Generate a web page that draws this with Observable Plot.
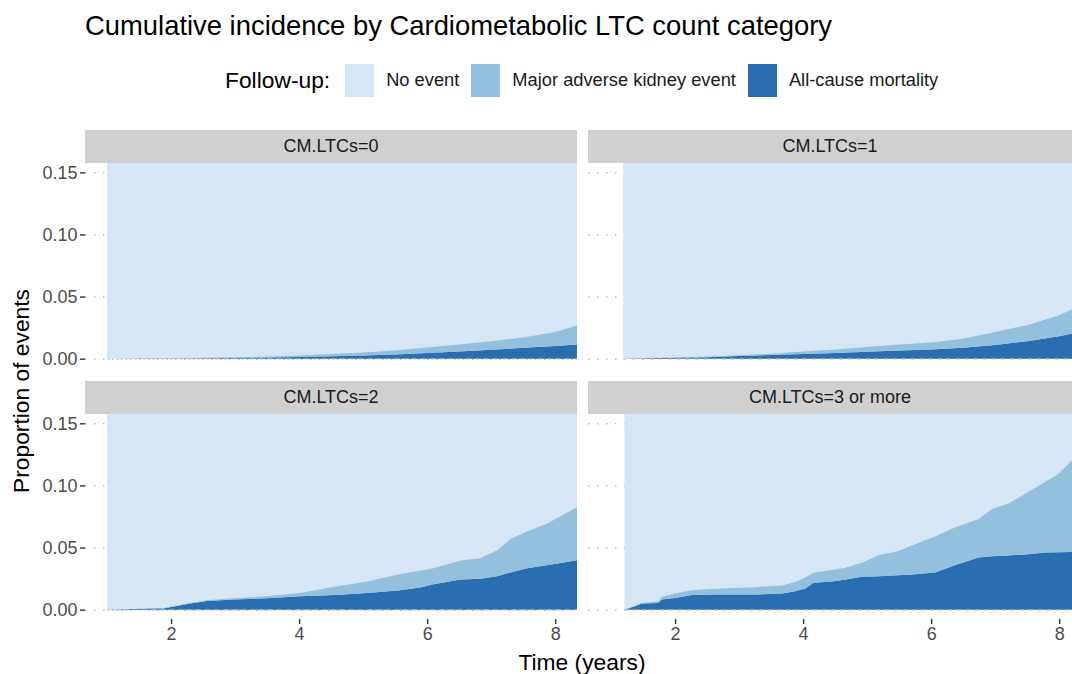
<!DOCTYPE html>
<html>
<head>
<meta charset="utf-8">
<script src="https://cdn.jsdelivr.net/npm/d3@7"></script>
<script src="https://cdn.jsdelivr.net/npm/@observablehq/plot@0.6"></script>
<style>
  html, body { margin: 0; padding: 0; background: #fff; overflow: hidden; }
  #wrap { position: relative; width: 1072px; height: 674px; font-family: "Liberation Sans", Arial, Helvetica, sans-serif; }
  .abs { position: absolute; }
  .strip { position: absolute; background: #d0d0d0; color: #1a1a1a; font-size: 18px; display: flex; align-items: center; justify-content: center; }
  #wrap svg { background: transparent !important; overflow: visible; }
  .legend { position: absolute; left: 225px; top: 63px; height: 34px; display: flex; align-items: center; }
  .legend .ttl { font-size: 22.8px; color: #000; margin-right: 15px; }
  .legend .sw { width: 29px; height: 33px; margin-right: 12px; }
  .legend .lab { font-size: 18.3px; color: #1a1a1a; margin-right: 12px; }
</style>
</head>
<body>
<div id="wrap"></div>
<script>
// ---------- text ----------
const titleText = "Cumulative incidence by Cardiometabolic LTC count category";
const legendTitle = "Follow-up:";
const seriesLabels = ["No event", "Major adverse kidney event", "All-cause mortality"];
const seriesColors = ["#d6e6f4", "#92c0dd", "#2a6db1"];
const facetLabels = ["CM.LTCs=0", "CM.LTCs=1", "CM.LTCs=2", "CM.LTCs=3 or more"];
const xTicks = [2, 4, 6, 8];
const yTicks = [0, 0.05, 0.10, 0.15];
const xLabel = "Time (years)";
const yLabel = "Proportion of events";

// ---------- data (cumulative incidence) ----------
// CM.LTCs=0
const time0 = [1.0, 1.5, 2, 2.5, 3, 3.5, 4, 4.5, 5, 5.5, 6, 6.5, 7, 7.5, 8, 8.34];
const mort0 = [0, 0.0001, 0.0002, 0.0004, 0.0006, 0.0009, 0.0013, 0.0019, 0.0026, 0.0034, 0.0045, 0.0058, 0.0072, 0.0087, 0.0103, 0.0114];
const make0 = [0, 0.0001, 0.0002, 0.0003, 0.0005, 0.0008, 0.0013, 0.0018, 0.0024, 0.0032, 0.0045, 0.0056, 0.0068, 0.0083, 0.0112, 0.0154];
// CM.LTCs=1
const time1 = [1.19, 1.5, 2, 2.5, 3, 3.5, 4, 4.5, 5, 5.5, 6, 6.5, 7, 7.5, 8, 8.2];
const mort1 = [0, 0.0004, 0.0007, 0.0012, 0.0021, 0.0030, 0.0037, 0.0045, 0.0055, 0.0065, 0.0073, 0.0088, 0.0110, 0.0140, 0.0180, 0.0203];
const make1 = [0, 0.0001, 0.0002, 0.0004, 0.0006, 0.0010, 0.0020, 0.0028, 0.0040, 0.0050, 0.0057, 0.0072, 0.0105, 0.0130, 0.0170, 0.0194];
// CM.LTCs=2
const time2 = [1.0, 1.39, 1.88, 2.3, 2.56, 2.97, 3.5, 4.02, 4.55, 5.07, 5.58, 5.89, 6.1, 6.52, 6.83, 7.09, 7.3, 7.56, 7.87, 8.34];
const mort2 = [0, 0.0005, 0.001, 0.0049, 0.007, 0.0081, 0.0092, 0.0108, 0.0119, 0.0135, 0.0157, 0.0178, 0.0205, 0.0243, 0.0249, 0.027, 0.030, 0.0333, 0.0357, 0.0397];
const make2 = [0, 0.0001, 0.0004, 0.0005, 0.0006, 0.0011, 0.0016, 0.0027, 0.0065, 0.0092, 0.0130, 0.0136, 0.0128, 0.0152, 0.0165, 0.0206, 0.0268, 0.0297, 0.0335, 0.0428];
// CM.LTCs=3 or more
const time3 = [1.21, 1.375, 1.48, 1.74, 1.79, 2.0, 2.26, 2.62, 3.25, 3.67, 3.875, 4.03, 4.16, 4.45, 4.66, 4.92, 5.18, 5.49, 5.75, 6.06, 6.37, 6.74, 6.95, 7.2, 7.47, 7.78, 7.99, 8.2];
const mort3 = [0, 0.0027, 0.0049, 0.0054, 0.0081, 0.0095, 0.0119, 0.0122, 0.0122, 0.013, 0.0149, 0.0168, 0.0216, 0.0227, 0.0243, 0.0265, 0.0270, 0.0278, 0.0285, 0.0300, 0.0357, 0.0420, 0.0430, 0.0436, 0.0445, 0.0460, 0.0463, 0.0465];
const make3 = [0, 0.0005, 0.0005, 0.0014, 0.0022, 0.0035, 0.0038, 0.0046, 0.0059, 0.0065, 0.0073, 0.0089, 0.0081, 0.0092, 0.0095, 0.0113, 0.0168, 0.0195, 0.0242, 0.0289, 0.0305, 0.0310, 0.0381, 0.0416, 0.0488, 0.0567, 0.0632, 0.0738];

const panelsData = [
  {time: time0, mort: mort0, make: make0},
  {time: time1, mort: mort1, make: make1},
  {time: time2, mort: mort2, make: make2},
  {time: time3, mort: mort3, make: make3}
];

// ---------- layout ----------
const wrap = document.getElementById("wrap");
const FONT = '"Liberation Sans", Arial, Helvetica, sans-serif';
const panelH = 205;
const yDomain = [-0.0075, 0.1575];
const layout = [
  {svgLeft: 0,   top: 163, width: 577, ml: 85, showY: true,  showX: false, xDomain: [0.656, 8.34], stripTop: 130},
  {svgLeft: 588, top: 163, width: 484, ml: 0,  showY: false, showX: false, xDomain: [0.64, 8.2],   stripTop: 130},
  {svgLeft: 0,   top: 414, width: 577, ml: 85, showY: true,  showX: true,  xDomain: [0.656, 8.34], stripTop: 381},
  {svgLeft: 588, top: 414, width: 484, ml: 0,  showY: false, showX: true,  xDomain: [0.64, 8.2],   stripTop: 381}
];

function el(tag, cls, css, text) {
  const e = document.createElement(tag);
  if (cls) e.className = cls;
  Object.assign(e.style, css || {});
  if (text != null) e.textContent = text;
  return e;
}

// title
wrap.appendChild(el("div", "abs", {left: "85px", top: "11px", fontSize: "27.4px", lineHeight: "30px", color: "#000", whiteSpace: "nowrap"}, titleText));

// legend
const leg = el("div", "legend");
leg.appendChild(el("span", "ttl", {}, legendTitle));
seriesLabels.forEach((s, i) => {
  leg.appendChild(el("span", "sw", {background: seriesColors[i]}));
  leg.appendChild(el("span", "lab", {}, s));
});
wrap.appendChild(leg);

// panels
layout.forEach((L, i) => {
  const d = panelsData[i];
  const rows = [];
  d.time.forEach((t, j) => {
    rows.push({t, v: d.mort[j], k: seriesLabels[2]});
    rows.push({t, v: d.make[j], k: seriesLabels[1]});
  });
  const span = [{x1: d.time[0], x2: d.time[d.time.length - 1]}];
  const marks = [
    Plot.ruleY(yTicks, {stroke: "#bdbdbd", strokeWidth: 1.5, strokeDasharray: "1.5,7.5"}),
    Plot.rect(span, {x1: "x1", x2: "x2", y1: () => 0, y2: () => 1, fill: seriesColors[0], clip: true}),
    Plot.areaY(rows, {x: "t", y: "v", fill: "k", order: [seriesLabels[2], seriesLabels[1]], clip: true}),
    Plot.ruleY([0], {x1: d.time[0], x2: d.time[d.time.length - 1], stroke: "#c9d3dc", strokeWidth: 1.2, strokeDasharray: "3,6"})
  ];
  if (L.showY) marks.push(Plot.axisY(yTicks, {tickFormat: d3.format(".2f"), tickSize: 5, tickPadding: 3, fontSize: 18, label: null, stroke: "#333", strokeWidth: 1.4}));
  if (L.showX) marks.push(Plot.axisX(xTicks, {tickSize: 5, tickPadding: 3, fontSize: 18, label: null, stroke: "#333", strokeWidth: 1.4}));
  const chart = Plot.plot({
    width: L.width,
    height: panelH + (L.showX ? 36 : 0),
    marginLeft: L.ml, marginRight: 0, marginTop: 0, marginBottom: L.showX ? 36 : 0,
    x: {domain: L.xDomain, axis: null},
    y: {domain: yDomain, axis: null},
    color: {domain: seriesLabels, range: seriesColors},
    style: {fontFamily: FONT, color: "#4d4d4d", background: "transparent", overflow: "visible"},
    marks
  });
  chart.style.position = "absolute";
  chart.style.left = L.svgLeft + "px";
  chart.style.top = L.top + "px";
  chart.style.maxWidth = "none";
  wrap.appendChild(chart);
  // strip
  const sLeft = L.svgLeft + L.ml;
  const strip = el("div", "strip", {left: sLeft + "px", top: L.stripTop + "px", width: (L.width - L.ml) + "px", height: "33px"}, facetLabels[i]);
  wrap.appendChild(strip);
});

// axis titles
wrap.appendChild(el("div", "abs", {left: "582px", top: "649px", transform: "translateX(-50%)", fontSize: "22.8px", lineHeight: "26px", color: "#000", whiteSpace: "nowrap"}, xLabel));
wrap.appendChild(el("div", "abs", {left: "21px", top: "391px", transform: "translate(-50%, -50%) rotate(-90deg)", fontSize: "22.8px", lineHeight: "26px", color: "#000", whiteSpace: "nowrap"}, yLabel));
</script>
</body>
</html>
